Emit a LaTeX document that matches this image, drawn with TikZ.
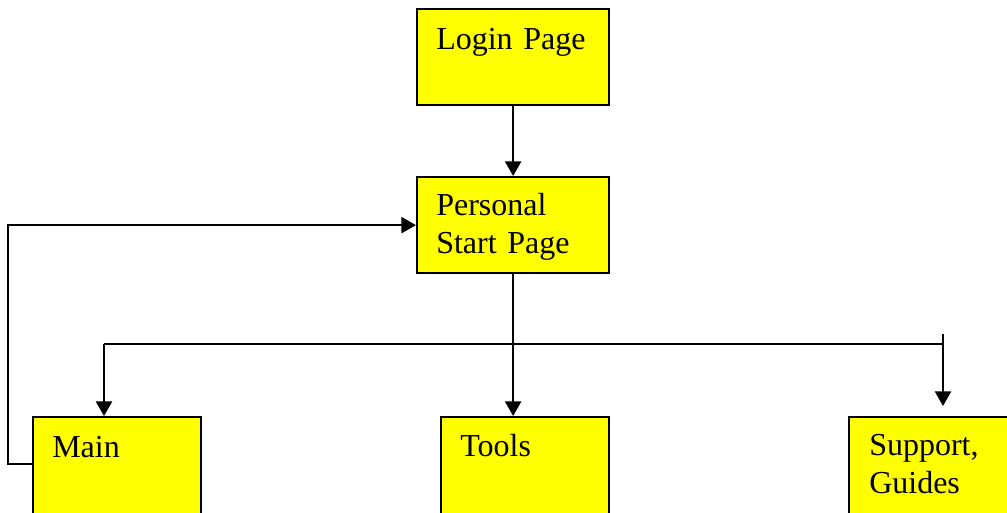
\documentclass[tikz,border=0pt]{standalone}
\usepackage{fontspec}
\setmainfont{Liberation Serif}
\usetikzlibrary{arrows.meta,calc}
\definecolor{pageyellow}{RGB}{255,255,0}
\begin{document}
\begin{tikzpicture}[x=0.75pt,y=-0.75pt,
  page/.style={draw=black,line width=1.7pt,fill=pageyellow,anchor=north west,inner sep=0pt},
  caption/.style={anchor=base west,inner sep=0pt,text width=130pt,align=left,
    font=\fontsize{24pt}{28.5pt}\selectfont},
  arr/.style={line width=1.7pt,-{Triangle[length=11pt,width=12pt]}},
  bus/.style={line width=1.2pt}]
  % canvas
  \path[use as bounding box,clip] (0,0) rectangle (1007,512);

  % pages
  \node[page,minimum width=144pt,minimum height=72pt] (login) at (416,8) {};
  \node[page,minimum width=144pt,minimum height=72pt] (personal) at (416,176) {};
  \node[page,minimum width=126pt,minimum height=90pt] (main) at (32,416) {};
  \node[page,minimum width=126pt,minimum height=90pt] (tools) at (440,416) {};
  \node[page,minimum width=135pt,minimum height=90pt] (support) at (848,416) {};

  % page titles
  \node[caption] (tlogin) at ($(login.north west)+(20,41)$) {Login Page};
  \node[caption] (tpersonal) at ($(personal.north west)+(20,39)$) {Personal\\Start Page};
  \node[caption] (tmain) at ($(main.north west)+(20,41)$) {Main};
  \node[caption] (ttools) at ($(tools.north west)+(20,40)$) {Tools};
  \node[caption] (tsupport) at ($(support.north west)+(21,39)$) {Support,\\Guides};

  % connectors
  \draw[arr] (login.south) -- (personal.north);
  \coordinate (busL) at (104,344);
  \coordinate (busR) at (943,344);
  \coordinate (supTop) at (943,334);
  \draw[bus] (busL) -- (busR);
  \draw[arr] (busL) -- (busL |- main.north);
  \draw[arr] (personal.south) -- (personal.south |- tools.north);
  \draw[arr,shorten >=7.5pt] (supTop) -- (supTop |- support.north);
  \draw[arr] ($(main.north west)+(0,48)$) -- ++(-24,0) |- (personal.west);
\end{tikzpicture}
\end{document}
